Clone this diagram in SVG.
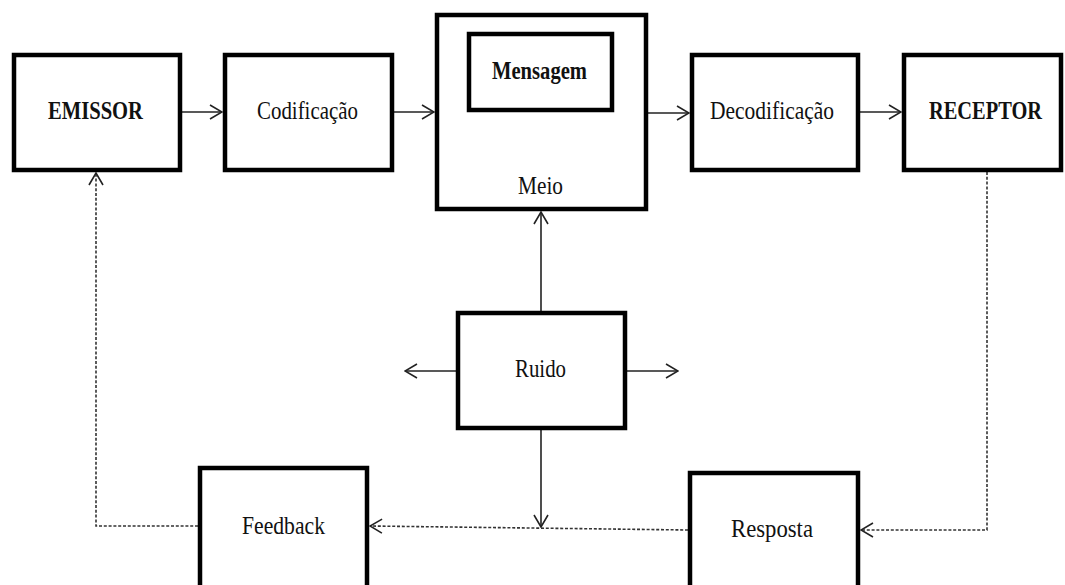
<svg xmlns="http://www.w3.org/2000/svg" width="1065" height="585" viewBox="0 0 1065 585">
  <style>
    .box { fill: #ffffff; stroke: #000000; stroke-width: 4.5; }
    .lbl { font-family: "Liberation Serif", "Times New Roman", serif; font-size: 25px; fill: #111111; text-anchor: start; }
    .bold { font-weight: bold; }
    .flow { fill: none; stroke: #222222; stroke-width: 1.6; }
    .dash { fill: none; stroke: #333333; stroke-width: 1.6; stroke-dasharray: 3 1.8; }
  </style>
  <defs>
    <marker id="open" viewBox="0 0 14 16" refX="13" refY="8" markerWidth="14" markerHeight="16" markerUnits="userSpaceOnUse" orient="auto">
      <path d="M1,1 L13,8 L1,15" fill="none" stroke="#222222" stroke-width="1.6"/>
    </marker>
  </defs>

  <rect width="1065" height="585" fill="#ffffff"/>

  <g id="connectors">
    <line class="flow" x1="182" y1="112" x2="222" y2="112" marker-end="url(#open)"/>
    <line class="flow" x1="394" y1="112" x2="434" y2="112" marker-end="url(#open)"/>
    <line class="flow" x1="648" y1="113" x2="689" y2="113" marker-end="url(#open)"/>
    <line class="flow" x1="860" y1="112" x2="901" y2="112" marker-end="url(#open)"/>
    <line class="flow" x1="541" y1="311" x2="541" y2="212" marker-end="url(#open)"/>
    <line class="flow" x1="456" y1="371" x2="405" y2="371" marker-end="url(#open)"/>
    <line class="flow" x1="627" y1="371" x2="678" y2="371" marker-end="url(#open)"/>
    <line class="flow" x1="541" y1="430" x2="541" y2="527" marker-end="url(#open)"/>
    <polyline class="dash" points="987,172 987,530 861,530" marker-end="url(#open)"/>
    <line class="dash" x1="688" y1="530" x2="370" y2="526" marker-end="url(#open)"/>
    <polyline class="dash" points="198,526 96,526 96,173" marker-end="url(#open)"/>
  </g>

  <g id="emissor">
    <rect class="box" x="14" y="55" width="166" height="115"/>
    <text class="lbl bold" x="48" y="119" textLength="95" lengthAdjust="spacingAndGlyphs">EMISSOR</text>
  </g>
  <g id="codificacao">
    <rect class="box" x="225" y="55" width="167" height="115"/>
    <text class="lbl" x="257" y="119" textLength="101" lengthAdjust="spacingAndGlyphs">Codificação</text>
  </g>
  <g id="meio">
    <rect class="box" x="437" y="15" width="209" height="194"/>
    <text class="lbl" x="518" y="194" textLength="45" lengthAdjust="spacingAndGlyphs">Meio</text>
  </g>
  <g id="mensagem">
    <rect class="box" x="469" y="34" width="143" height="76"/>
    <text class="lbl bold" x="492" y="79" textLength="95" lengthAdjust="spacingAndGlyphs">Mensagem</text>
  </g>
  <g id="decodificacao">
    <rect class="box" x="692" y="55" width="166" height="115"/>
    <text class="lbl" x="710" y="119" textLength="124" lengthAdjust="spacingAndGlyphs">Decodificação</text>
  </g>
  <g id="receptor">
    <rect class="box" x="904" y="55" width="157" height="115"/>
    <text class="lbl bold" x="929" y="119" textLength="113" lengthAdjust="spacingAndGlyphs">RECEPTOR</text>
  </g>
  <g id="ruido">
    <rect class="box" x="458" y="313" width="167" height="115"/>
    <text class="lbl" x="515" y="377" textLength="51" lengthAdjust="spacingAndGlyphs">Ruido</text>
  </g>
  <g id="feedback">
    <rect class="box" x="200" y="468" width="167" height="140"/>
    <text class="lbl" x="242" y="534" textLength="83" lengthAdjust="spacingAndGlyphs">Feedback</text>
  </g>
  <g id="resposta">
    <rect class="box" x="690" y="473" width="168" height="140"/>
    <text class="lbl" x="731" y="537" textLength="82" lengthAdjust="spacingAndGlyphs">Resposta</text>
  </g>
</svg>
